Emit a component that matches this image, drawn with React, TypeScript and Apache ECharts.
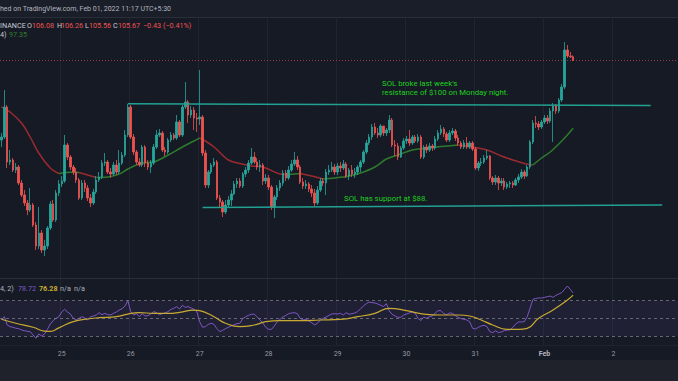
import React, { useEffect, useRef } from "react";
import * as echarts from "echarts";

// ---------- data (hourly SOL candles) ----------
const firstOpen = 96.1;
const closes = [
  96.46, 100.06, 93.46, 93.70, 92.50, 92.86, 90.94, 89.50, 88.54, 87.70,
  88.30, 85.90, 83.38, 84.94, 82.90, 83.38, 85.54, 88.42, 86.50, 89.74,
  90.82, 91.18, 95.50, 94.06, 92.86, 92.26, 91.30, 89.14, 90.94, 90.34,
  89.14, 88.54, 89.86, 91.30, 91.66, 93.34, 93.46, 92.26, 92.02, 93.10,
  92.26, 93.34, 94.30, 96.70, 100.06, 96.46, 94.66, 93.46, 93.10, 95.26,
  93.34, 92.86, 93.34, 95.26, 96.70, 96.94, 94.90, 94.66, 96.10, 96.70,
  96.34, 98.26, 96.70, 100.06, 100.66, 99.10, 99.70, 98.74, 98.62, 98.86,
  94.54, 90.70, 92.26, 93.10, 93.46, 89.14, 88.66, 87.46, 88.30, 88.90,
  89.62, 90.82, 91.18, 90.58, 92.02, 92.50, 93.34, 94.06, 93.46, 92.86,
  93.10, 91.18, 91.54, 90.46, 88.06, 89.26, 90.34, 90.94, 92.14, 91.54,
  92.50, 93.22, 93.70, 92.86, 91.06, 90.58, 90.82, 90.22, 89.74, 88.54,
  90.10, 91.18, 90.94, 92.26, 92.50, 92.86, 92.26, 92.98, 92.74, 93.22,
  91.78, 92.50, 92.02, 92.26, 92.86, 93.46, 94.66, 95.74, 96.46, 97.66,
  96.94, 96.70, 97.78, 96.94, 97.30, 98.50, 95.50, 95.38, 94.06, 95.14,
  95.98, 96.22, 95.74, 96.46, 95.98, 96.46, 94.06, 95.26, 94.90, 95.38,
  95.14, 96.22, 96.94, 97.42, 96.82, 96.10, 96.94, 97.18, 96.34, 95.74,
  95.26, 95.74, 95.26, 95.74, 95.02, 92.74, 93.34, 93.46, 93.94, 94.18,
  91.54, 91.06, 91.54, 90.94, 91.18, 90.46, 90.82, 90.94, 90.70, 91.30,
  91.66, 92.26, 91.78, 92.86, 95.86, 98.14, 98.02, 97.66, 98.26, 98.74,
  98.38, 99.58, 100.18, 99.58, 100.90, 102.46, 106.90, 106.18, 106.08, 105.67,
];
const highs = [
  96.94, 102.10, 100.30, 94.90, 93.94, 93.34, 93.10, 91.30, 90.10, 88.90,
  90.34, 88.54, 86.26, 88.06, 85.30, 84.10, 85.78, 88.78, 88.90, 90.10,
  91.30, 91.78, 96.70, 95.74, 94.30, 93.10, 92.74, 91.54, 91.30, 91.30,
  90.70, 89.62, 90.22, 91.78, 92.26, 93.70, 94.54, 93.70, 92.74, 93.46,
  93.70, 94.90, 94.66, 97.30, 100.42, 100.30, 96.82, 94.90, 93.94, 95.50,
  95.50, 93.70, 93.70, 95.62, 97.30, 97.42, 97.18, 95.26, 96.34, 97.06,
  96.94, 99.10, 98.50, 100.30, 103.06, 100.90, 100.18, 100.06, 99.34, 104.50,
  99.10, 94.90, 92.50, 93.34, 93.94, 93.70, 89.50, 88.90, 88.90, 89.38,
  90.10, 91.18, 91.54, 91.54, 92.26, 92.86, 93.70, 95.14, 94.66, 93.94,
  93.70, 93.34, 92.02, 91.90, 90.70, 89.50, 90.70, 91.30, 92.50, 92.50,
  92.98, 93.70, 94.66, 94.18, 93.10, 91.54, 91.30, 91.06, 90.70, 90.22,
  90.58, 91.54, 91.54, 92.62, 93.10, 93.46, 93.22, 93.34, 93.46, 93.70,
  93.46, 92.74, 93.10, 92.74, 93.10, 93.70, 94.90, 96.10, 96.82, 98.02,
  98.14, 97.54, 98.02, 97.78, 97.54, 99.10, 98.74, 96.10, 95.74, 95.38,
  96.34, 96.58, 97.30, 96.70, 96.70, 96.82, 96.70, 95.50, 95.62, 95.74,
  95.62, 96.58, 97.30, 97.90, 97.66, 97.06, 97.30, 97.54, 97.42, 96.70,
  95.98, 96.10, 96.46, 95.98, 95.98, 95.26, 93.58, 93.94, 94.30, 94.90,
  94.30, 91.78, 91.90, 91.78, 91.54, 91.54, 91.06, 91.18, 91.18, 91.54,
  92.02, 92.62, 92.50, 93.10, 96.10, 98.50, 98.98, 98.38, 98.50, 99.10,
  99.10, 99.94, 100.54, 100.42, 101.14, 102.82, 107.86, 107.50, 106.66, 106.26,
];
const lows = [
  95.26, 96.22, 92.74, 93.10, 92.26, 92.14, 90.70, 89.26, 88.18, 87.10,
  87.46, 85.66, 82.90, 83.02, 82.54, 82.18, 83.02, 85.30, 86.26, 86.26,
  89.38, 90.46, 90.94, 93.70, 92.50, 91.90, 90.94, 88.90, 88.90, 89.86,
  88.78, 88.06, 88.30, 89.62, 91.06, 91.42, 92.98, 92.02, 91.54, 91.78,
  91.90, 92.02, 93.10, 94.06, 96.46, 96.22, 94.30, 93.10, 92.86, 92.86,
  92.86, 92.50, 92.14, 93.10, 95.02, 96.46, 94.66, 94.18, 94.42, 95.86,
  96.10, 96.10, 96.46, 96.46, 99.82, 98.14, 98.74, 97.30, 97.06, 97.90,
  94.18, 90.34, 90.34, 92.02, 92.86, 88.90, 88.06, 86.86, 87.22, 88.06,
  88.18, 89.50, 90.34, 90.34, 90.34, 91.66, 92.14, 93.10, 93.22, 92.50,
  92.26, 90.70, 90.82, 90.10, 87.70, 86.74, 88.90, 89.98, 90.58, 91.18,
  91.30, 92.26, 92.98, 92.50, 90.82, 90.22, 90.22, 89.86, 89.26, 88.18,
  88.30, 89.86, 90.58, 89.50, 91.90, 92.26, 91.90, 91.90, 92.26, 92.50,
  91.54, 91.30, 91.66, 91.54, 91.90, 92.26, 93.22, 94.42, 95.50, 96.10,
  96.70, 96.34, 96.46, 96.58, 96.58, 96.94, 95.26, 94.18, 93.70, 93.94,
  94.90, 95.62, 95.38, 95.50, 95.74, 95.74, 93.82, 93.82, 94.54, 94.66,
  94.78, 94.90, 95.98, 96.70, 96.46, 95.86, 95.86, 96.70, 95.98, 95.38,
  95.02, 95.02, 95.02, 95.02, 94.78, 92.50, 92.38, 92.98, 93.22, 93.70,
  91.30, 90.70, 90.70, 90.10, 90.58, 90.10, 90.22, 90.34, 90.34, 90.58,
  90.94, 91.42, 91.42, 91.66, 92.62, 95.62, 97.54, 97.30, 97.42, 98.02,
  98.02, 98.14, 95.86, 99.22, 99.34, 100.66, 102.22, 105.94, 105.94, 105.56,
];

// moving average (coloured red when falling, green when rising): [candle index, value]
const maFalling1: [number, number][] = [[0, 100.06], [3, 99.46], [7, 98.14], [10, 96.46], [13, 94.54], [17, 92.74], [20, 92.08]];
const maRising1: [number, number][] = [[20, 92.08], [24, 92.22], [27, 92.2]];
const maFalling2: [number, number][] = [[27, 92.2], [30, 91.9], [33, 91.6]];
const maRising2: [number, number][] = [[33, 91.6], [37, 91.66], [41, 92.0], [44, 92.62], [49, 93.34], [53, 93.46], [58, 94.3], [63, 95.26], [67, 95.98], [69, 96.34]];
const maFalling3: [number, number][] = [[69, 96.34], [71, 95.98], [74, 95.26], [79, 93.7], [83, 93.28], [87, 92.98], [91, 92.86], [97, 92.02], [100, 91.95]];
const maRising3: [number, number][] = [[100, 91.95], [104, 92.08]];
const maFalling4: [number, number][] = [[104, 92.08], [108, 91.78], [112, 91.42]];
const maRising4: [number, number][] = [[112, 91.42], [116, 91.54], [121, 91.78], [125, 92.14], [130, 92.86], [134, 93.82], [138, 94.3], [143, 94.9], [148, 95.14], [153, 95.32], [159, 95.5]];
const maFalling5: [number, number][] = [[159, 95.5], [164, 95.26], [169, 94.9], [174, 94.18], [178, 93.7], [182, 93.28], [185, 93.1]];
const maRising5: [number, number][] = [[185, 93.1], [188, 93.94], [191, 94.66], [194, 95.62], [197, 96.7], [199, 97.5]];

const rsiValues = [
  48.3, 52.0, 42.7, 40.8, 40.1, 39.0, 38.6, 37.1, 36.3, 35.6,
  35.2, 31.5, 27.7, 32.6, 30.4, 32.6, 37.8, 43.8, 47.6, 50.2,
  52.0, 57.3, 60.3, 57.3, 55.0, 50.2, 48.3, 50.2, 52.0, 50.5,
  48.3, 52.0, 52.8, 53.9, 56.5, 54.3, 55.8, 54.3, 53.9, 55.8,
  57.3, 59.5, 61.0, 64.0, 70.0, 57.7, 53.9, 55.4, 52.0, 55.4,
  52.8, 53.2, 55.0, 57.7, 56.5, 54.3, 55.4, 56.2, 57.7, 60.3,
  61.4, 63.3, 60.7, 64.8, 62.5, 63.3, 61.8, 60.3, 57.7, 46.4,
  40.1, 40.8, 43.4, 44.6, 43.4, 38.6, 35.2, 36.7, 38.6, 40.1,
  41.6, 43.1, 44.2, 44.6, 49.8, 52.0, 53.5, 54.7, 55.0, 51.7,
  48.3, 44.9, 40.1, 37.8, 37.8, 41.6, 46.4, 49.1, 51.7, 53.5,
  55.4, 56.2, 56.5, 55.4, 50.2, 48.3, 49.1, 47.2, 45.3, 42.7,
  44.6, 48.3, 50.2, 51.7, 53.5, 55.0, 55.4, 55.0, 55.8, 53.9,
  56.5, 54.7, 55.4, 56.2, 57.7, 61.0, 64.0, 66.6, 68.5, 67.8,
  67.4, 66.3, 64.8, 63.6, 66.6, 58.4, 54.7, 52.8, 51.3, 51.3,
  53.9, 55.0, 56.2, 57.3, 55.8, 50.2, 47.6, 51.7, 50.2, 52.0,
  52.8, 56.2, 58.8, 58.8, 55.4, 54.3, 56.2, 55.8, 53.2, 51.3,
  49.8, 49.1, 48.3, 46.4, 39.0, 38.2, 40.1, 41.6, 42.3, 40.8,
  35.2, 34.1, 36.3, 34.1, 34.8, 36.3, 37.1, 37.1, 40.1, 43.8,
  46.1, 46.1, 46.4, 52.0, 61.4, 71.5, 72.6, 73.0, 73.0, 73.7,
  74.5, 75.2, 73.7, 76.0, 77.5, 79.0, 82.7, 86.5, 82.7, 78.72,
];
const rsiMaPoints: [number, number][] = [
  [0, 49.1], [5, 44.6], [11, 40.1], [15, 35.8], [17, 35.5], [20, 39.5], [25, 46.4], [30, 49.4],
  [34, 50.9], [40, 52.0], [44, 55.0], [48, 56.5], [53, 55.8], [58, 55.8], [62, 56.9], [67, 59.5],
  [69, 58.8], [74, 52.0], [78, 44.6], [83, 40.8], [88, 42.7], [92, 46.4], [97, 47.6], [104, 47.6],
  [111, 48.3], [118, 49.1], [124, 52.0], [130, 55.8], [135, 61.4], [141, 58.8], [147, 55.0],
  [153, 53.9], [159, 53.9], [163, 52.8], [167, 48.3], [171, 42.7], [176, 37.8], [180, 37.8],
  [183, 38.9], [187, 50.2], [192, 59.5], [197, 70.7], [199, 76.28],
];
const rsiLevels = [70, 50, 30];

const dayTickLabels = ["25", "26", "27", "28", "29", "30", "31", "Feb", "2"];
const resistance = { from: 44, to: 226, startPrice: 100.45, endPrice: 100.25 };
const support = { from: 70, to: 230, startPrice: 88.0, endPrice: 88.3 };
const lastPrice = 105.67;
const slotCount = 236;
const firstHourUtc = Date.UTC(2022, 0, 24, 3);

// ---------- derived ----------
const categories: string[] = [];
const tickAt: Record<number, string> = {};
{
  let t = 0;
  for (let k = 0; k < slotCount; k++) {
    const d = new Date(firstHourUtc + k * 3600000);
    categories.push(d.toISOString().slice(0, 13));
    if (d.getUTCHours() === 0 && t < dayTickLabels.length) tickAt[k] = dayTickLabels[t++];
  }
}
const candleData = closes.map((c, i) => [i === 0 ? firstOpen : closes[i - 1], c, lows[i], highs[i]]);
const toCat = (pts: [number, number][]) => pts.map(([i, v]) => [categories[i], v]);

const UP = "#26a69a";
const DOWN = "#ef5350";
const BG = "#161a25";
const FONT = "Roboto, 'Noto Sans', sans-serif";

export default function App() {
  const ref = useRef<HTMLDivElement>(null);
  useEffect(() => {
    if (!ref.current) return;
    const chart = echarts.init(ref.current, undefined, { renderer: "svg" });
    const maSeries = [
      { pts: maFalling1, up: false }, { pts: maRising1, up: true },
      { pts: maFalling2, up: false }, { pts: maRising2, up: true },
      { pts: maFalling3, up: false }, { pts: maRising3, up: true },
      { pts: maFalling4, up: false }, { pts: maRising4, up: true },
      { pts: maFalling5, up: false }, { pts: maRising5, up: true },
    ].map((s) => ({
      type: "line",
      xAxisIndex: 0,
      yAxisIndex: 0,
      data: toCat(s.pts),
      smooth: 0.35,
      showSymbol: false,
      silent: true,
      z: 3,
      lineStyle: { width: 1.5, color: s.up ? "#2e7a2c" : "#9a2a30" },
    }));

    const txt = (x: number, y: number, text: string, fill: string, size = 7.2, weight: any = "normal") => ({
      type: "text",
      x,
      y,
      z: 100,
      style: { text, fill, font: `${weight} ${size}px ${FONT}`, textVerticalAlign: "middle" },
    });

    const option: any = {
      animation: false,
      backgroundColor: BG,
      grid: [
        { left: 0, right: 0, top: 18, height: 260 },
        { left: 0, right: 0, top: 278, height: 67 },
      ],
      xAxis: [0, 1].map((g) => ({
        type: "category",
        gridIndex: g,
        data: categories,
        boundaryGap: true,
        axisLine: { show: false },
        axisTick: { show: false },
        axisLabel: {
          show: g === 1,
          interval: (idx: number) => tickAt[idx] !== undefined,
          formatter: (_v: string, idx: number) => {
            const l = tickAt[idx] || "";
            return l === "Feb" ? `{b|${l}}` : l;
          },
          color: "#9598a1",
          fontSize: 7,
          fontFamily: FONT,
          margin: 5,
          rich: { b: { color: "#b2b5be", fontSize: 7, fontWeight: "bold", fontFamily: FONT } },
        },
        splitLine: {
          show: true,
          interval: (idx: number) => tickAt[idx] !== undefined,
          lineStyle: { color: "#1f2431", width: 1 },
        },
      })),
      yAxis: [
        { gridIndex: 0, type: "value", min: 79.54, max: 110.74, show: false, splitLine: { show: false } },
        { gridIndex: 1, type: "value", min: 20.2, max: 95.5, show: false, splitLine: { show: false } },
      ],
      series: [
        {
          type: "candlestick",
          xAxisIndex: 0,
          yAxisIndex: 0,
          data: candleData,
          barWidth: 2,
          z: 4,
          itemStyle: { color: UP, color0: DOWN, borderColor: UP, borderColor0: DOWN, borderWidth: 0.8 },
          markLine: {
            silent: true,
            symbol: ["none", "none"],
            label: { show: false },
            data: [
              { yAxis: lastPrice, lineStyle: { color: DOWN, type: [1, 2], width: 1, opacity: 0.6 } },
              [
                { coord: [categories[resistance.from], resistance.startPrice], lineStyle: { color: "#22a193", width: 1.5, type: "solid" } },
                { coord: [categories[resistance.to], resistance.endPrice] },
              ],
              [
                { coord: [categories[support.from], support.startPrice], lineStyle: { color: "#22a193", width: 1.5, type: "solid" } },
                { coord: [categories[support.to], support.endPrice] },
              ],
            ],
          },
        },
        ...maSeries,
        {
          type: "line",
          xAxisIndex: 1,
          yAxisIndex: 1,
          data: rsiValues,
          showSymbol: false,
          silent: true,
          z: 4,
          lineStyle: { width: 1, color: "#7e57c2" },
          markArea: {
            silent: true,
            itemStyle: { color: "rgba(126,87,194,0.1)" },
            data: [[{ yAxis: rsiLevels[0] }, { yAxis: rsiLevels[2] }]],
          },
          markLine: {
            silent: true,
            symbol: ["none", "none"],
            label: { show: false },
            lineStyle: { color: "#787b86", type: [3, 3], width: 1, opacity: 0.8 },
            data: rsiLevels.map((v) => ({ yAxis: v })),
          },
        },
        {
          type: "line",
          xAxisIndex: 1,
          yAxisIndex: 1,
          data: toCat(rsiMaPoints),
          smooth: 0.5,
          showSymbol: false,
          silent: true,
          z: 5,
          lineStyle: { width: 1.2, color: "#c8aa32" },
        },
      ],
      graphic: [
        { type: "rect", z: -1, shape: { x: 0, y: 0, width: 678, height: 17 }, style: { fill: "#1a1e29" } },
        { type: "line", z: 1, shape: { x1: 0, y1: 17.5, x2: 678, y2: 17.5 }, style: { stroke: "#2a2e39", lineWidth: 1 } },
        { type: "line", z: 1, shape: { x1: 0, y1: 278.5, x2: 678, y2: 278.5 }, style: { stroke: "#2a2e39", lineWidth: 1 } },
        { type: "line", z: 1, shape: { x1: 0, y1: 345.5, x2: 678, y2: 345.5 }, style: { stroke: "#1f2330", lineWidth: 1 } },
        { type: "rect", z: 1, shape: { x: 0, y: 360, width: 678, height: 21 }, style: { fill: "#1f222b" } },
        txt(0, 9, "hed on TradingView.com, Feb 01, 2022 11:17 UTC+5:30", "#b2b5be", 7),
        txt(0, 25, "INANCE", "#c8cad2"),
        txt(27, 25, "O", "#c8cad2"), txt(32, 25, "106.08", DOWN),
        txt(57, 25, "H", "#c8cad2"), txt(61, 25, "106.26", DOWN),
        txt(85, 25, "L", "#c8cad2"), txt(89, 25, "105.56", DOWN),
        txt(113, 25, "C", "#c8cad2"), txt(118, 25, "105.67", DOWN),
        txt(143, 25, "\u22120.43 (\u22120.41%)", DOWN),
        txt(0, 34.5, "4)", "#c8cad2"), txt(9, 34.5, "97.35", "#2e7a2c"),
        txt(382, 83, "SOL broke last week's", "#1fcf1f", 7.8),
        txt(382, 92, "resistance of $100 on Monday night.", "#1fcf1f", 7.8),
        txt(344, 198, "SOL has support at $88.", "#1fcf1f", 7.8),
        txt(0, 288, "4, 2)", "#b2b5be"),
        txt(18, 288, "78.72", "#7e57c2"),
        txt(39, 288, "76.28", "#c8aa32", 7.2, "bold"),
        txt(60, 288, "n/a", "#b2b5be"),
        txt(74, 288, "n/a", "#b2b5be"),
      ],
    };
    chart.setOption(option);
    return () => chart.dispose();
  }, []);
  return (
    <div
      ref={ref}
      style={{ position: "fixed", left: 0, top: 0, width: 678, height: 381, background: BG }}
    />
  );
}
